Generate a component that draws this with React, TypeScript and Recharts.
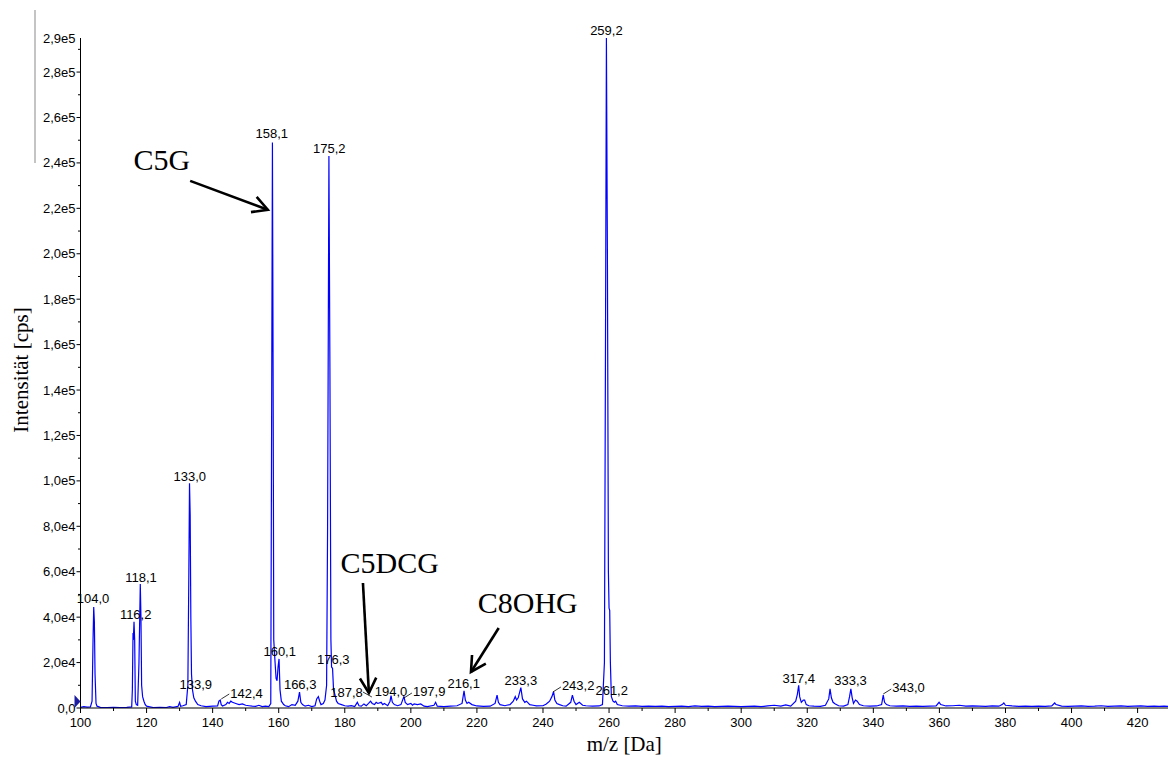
import React from 'react';
import {
  LineChart,
  Line,
  XAxis,
  YAxis,
  ReferenceDot,
  ReferenceLine,
  Label,
} from 'recharts';

// ---- axis ticks ----
const xTickValues = [
  100, 110, 120, 130, 140, 150, 160, 170, 180, 190, 200, 210, 220, 230, 240, 250,
  260, 270, 280, 290, 300, 310, 320, 330, 340, 350, 360, 370, 380, 390, 400, 410, 420,
];
const yTickValues = [
  0, 10000, 20000, 30000, 40000, 50000, 60000, 70000, 80000, 90000, 100000, 110000,
  120000, 130000, 140000, 150000, 160000, 170000, 180000, 190000, 200000, 210000,
  220000, 230000, 240000, 250000, 260000, 270000, 280000, 290000, 295000,
];
const yTopLabelValue = 295000;
const yTopLabelText = '2,9e5';

// ---- spectrum: [m/z, intensity cps] ----
const spectrumPoints: [number, number][] = [
  [100.0, 300], [101.0, 600], [102.0, 400], [103.0, 500], [103.5, 3000], [103.8, 30000],
  [104.0, 44500], [104.2, 38000], [104.4, 15000], [104.7, 2000], [105.0, 800], [106, 300],
  [108, 200], [110, 300], [112, 200], [114, 300], [115.5, 500], [115.7, 8000], [115.9, 33000],
  [116.0, 30000], [116.2, 38000], [116.4, 30000], [116.6, 3000], [116.9, 1500], [117.3, 1200],
  [117.7, 20000], [118.1, 54600], [118.3, 40000], [118.5, 10000], [118.8, 5000], [119.2, 3000],
  [119.6, 1500], [120, 800], [121, 500], [122, 200], [124, 300], [126, 200], [127, 600],
  [128, 300], [129.5, 700], [130, 2500], [130.3, 800], [131, 1000], [132, 1500], [132.5, 10000],
  [132.8, 60000], [133.0, 99000], [133.2, 85000], [133.4, 40000], [133.6, 15000], [133.9, 8000],
  [134.3, 4500], [134.8, 3000], [135.5, 1500], [136.5, 1000], [138, 600], [140, 800],
  [141.5, 900], [141.9, 3000], [142.3, 3500], [142.6, 1500], [143, 900], [144, 1500],
  [144.5, 2500], [145, 2000], [145.5, 3000], [146, 2500], [147, 2000], [148, 1500], [149, 1800],
  [150, 1200], [151, 1000], [152, 800], [153, 700], [154, 1200], [155, 600], [156, 800],
  [157, 600], [157.6, 2000], [157.8, 100000], [158.1, 249000], [158.3, 150000], [158.5, 30000],
  [158.9, 20000], [159.2, 13000], [159.5, 12000], [159.8, 18000], [160.1, 21600], [160.4, 8000],
  [160.8, 3000], [161.5, 1500], [162, 1000], [163, 600], [164, 1500], [165, 1200], [165.8, 3000],
  [166.3, 7000], [166.7, 2500], [167.2, 1500], [168, 800], [169, 1200], [170, 600], [171, 1000],
  [171.5, 4000], [172, 5000], [172.4, 3000], [172.8, 1500], [173.5, 2000], [174, 3500],
  [174.5, 10000], [174.8, 80000], [175.2, 243000], [175.5, 150000], [175.8, 30000],
  [176.0, 18000], [176.3, 17500], [176.6, 8000], [177, 6000], [177.5, 3000], [178, 2000],
  [179, 1500], [180, 1000], [181, 800], [182, 1000], [183, 600], [183.8, 2500], [184.3, 1000],
  [185, 800], [185.8, 1800], [186.5, 1000], [187.2, 2000], [187.8, 3000], [188.3, 2000],
  [189, 1500], [189.5, 2500], [190, 2000], [191, 2500], [191.5, 1500], [192, 2000], [193, 1000],
  [193.7, 3000], [194.0, 5500], [194.4, 2500], [195, 1500], [196, 1000], [197, 1500],
  [197.9, 5000], [198.3, 2500], [199, 1500], [200, 2000], [200.5, 1200], [201, 1800],
  [202, 1500], [203, 1800], [204, 800], [205, 600], [207, 1200], [207.5, 2500], [208, 800],
  [210, 600], [212, 800], [214, 1000], [215.5, 2000], [216.1, 7600], [216.5, 3500], [217, 2000],
  [217.5, 2500], [218.5, 1500], [220, 900], [222, 700], [224, 800], [225.5, 2000],
  [226.1, 5700], [226.5, 2500], [227, 1500], [228.5, 1000], [229, 1200], [230, 1500],
  [231, 3000], [231.6, 5000], [232, 3500], [232.5, 4500], [233.3, 9000], [233.8, 4000],
  [234.5, 2500], [235, 3000], [236, 1500], [237, 1200], [238, 900], [240, 1000], [241, 1800],
  [242, 3000], [242.7, 5000], [243.2, 7200], [243.6, 3500], [244.2, 2000], [245, 1500],
  [246, 1000], [247, 800], [248.4, 2500], [248.9, 5700], [249.4, 3000], [250, 1500],
  [251, 2500], [252, 1200], [253, 1000], [255, 800], [257, 900], [258, 1500], [258.6, 20000],
  [258.9, 150000], [259.2, 295000], [259.5, 200000], [259.8, 60000], [260.0, 44000],
  [260.2, 43000], [260.4, 20000], [260.7, 5000], [261.2, 3000], [261.6, 2500], [262, 3000],
  [262.5, 1500], [264, 1000], [266, 800], [268, 900], [270, 700], [272, 800], [274, 700],
  [276, 800], [278, 600], [280, 700], [282, 800], [284, 600], [286, 900], [288, 700],
  [290, 800], [292, 600], [294, 700], [296, 800], [298, 700], [300, 600], [302, 700],
  [304, 800], [306, 600], [308, 900], [310, 1200], [312, 800], [313.5, 1400], [315, 800],
  [316.5, 3000], [317.0, 6000], [317.4, 10000], [317.7, 5000], [318.2, 2500], [318.8, 3500],
  [319.2, 3500], [319.7, 1500], [320.5, 1000], [322, 800], [324, 700], [325.5, 1200],
  [326.5, 4000], [326.9, 8400], [327.3, 4500], [327.8, 2500], [328.5, 1800], [329.5, 1000],
  [331, 800], [332.3, 1500], [332.8, 5000], [333.2, 8400], [333.6, 4500], [334, 2000],
  [334.6, 3500], [335.1, 3000], [335.8, 1500], [337, 1000], [339, 800], [341, 900],
  [342.5, 1500], [343.0, 5700], [343.4, 2500], [344, 1500], [345, 1000], [347, 800], [349, 900],
  [351, 700], [353, 800], [355, 700], [357, 800], [359, 900], [359.9, 2500], [360.4, 1500],
  [362, 900], [364, 1000], [366, 1200], [368, 800], [370, 900], [372, 800], [374, 700],
  [376, 900], [378, 800], [379, 1500], [379.5, 2200], [380, 1200], [382, 900], [384, 700],
  [386, 800], [388, 700], [390, 800], [392, 700], [394, 900], [394.9, 2200], [395.3, 1500],
  [397, 800], [399, 700], [401, 800], [403, 900], [405, 700], [407, 800], [409, 1000],
  [411, 700], [413, 800], [415, 900], [417, 700], [419, 800], [421, 900], [423, 700],
  [425, 800], [426.5, 700], [428, 800], [429.2, 700],
];

// ---- peak labels: anchor (m/z, intensity), text, leader side ----
type Lead = 'none' | 'right' | 'left';
const peakLabels: { mz: number; val: number; text: string; lead: Lead }[] = [
  { mz: 103.8, val: 45060, text: '104,0', lead: 'none' },
  { mz: 116.7, val: 38000, text: '116,2', lead: 'none' },
  { mz: 118.3, val: 54300, text: '118,1', lead: 'none' },
  { mz: 133.1, val: 98800, text: '133,0', lead: 'none' },
  { mz: 134.9, val: 7200, text: '133,9', lead: 'none' },
  { mz: 142.6, val: 3960, text: '142,4', lead: 'right' },
  { mz: 157.9, val: 249450, text: '158,1', lead: 'none' },
  { mz: 160.3, val: 21600, text: '160,1', lead: 'none' },
  { mz: 166.5, val: 7180, text: '166,3', lead: 'none' },
  { mz: 175.3, val: 242850, text: '175,2', lead: 'none' },
  { mz: 176.5, val: 17970, text: '176,3', lead: 'none' },
  { mz: 188.2, val: 4845, text: '187,8', lead: 'left' },
  { mz: 194.0, val: 4100, text: '194,0', lead: 'none' },
  { mz: 197.9, val: 4405, text: '197,9', lead: 'right' },
  { mz: 216.0, val: 7620, text: '216,1', lead: 'none' },
  { mz: 233.3, val: 8940, text: '233,3', lead: 'none' },
  { mz: 243.0, val: 7050, text: '243,2', lead: 'right' },
  { mz: 259.2, val: 295000, text: '259,2', lead: 'none' },
  { mz: 260.8, val: 4540, text: '261,2', lead: 'none' },
  { mz: 317.4, val: 9820, text: '317,4', lead: 'none' },
  { mz: 333.1, val: 8630, text: '333,3', lead: 'none' },
  { mz: 343.0, val: 6170, text: '343,0', lead: 'right' },
];

// ---- compound annotations ----
const annotationTexts = [
  { mz: 124.6, val: 237000, text: 'C5G' },
  { mz: 193.6, val: 59470, text: 'C5DCG' },
  { mz: 235.4, val: 41850, text: 'C8OHG' },
];
const annotationArrows = [
  { from: { mz: 133.2, val: 232100 }, to: { mz: 156.7, val: 219400 } },
  { from: { mz: 185.5, val: 55060 }, to: { mz: 187.3, val: 6600 } },
  { from: { mz: 226.6, val: 35240 }, to: { mz: 218.2, val: 15860 } },
];

const SANS = '"Liberation Sans", Arial, sans-serif';
const SERIF = '"Liberation Serif", "Times New Roman", serif';

const data = spectrumPoints.map(([mz, int]) => ({ mz, int }));

function formatY(v: number): string {
  if (v === 0) return '0,0';
  const exp = Math.floor(Math.log10(v));
  const mant = v / Math.pow(10, exp);
  return mant.toFixed(1).replace('.', ',') + 'e' + exp;
}

const XTick = (props: any) => {
  const { x, y, payload } = props;
  const v = payload.value;
  const major = v % 20 === 0;
  return (
    <g>
      <line x1={x} y1={y} x2={x} y2={y + (major ? 5 : 3)} stroke="#000" strokeWidth={1} />
      {major && (
        <text x={x} y={y + 19} textAnchor="middle" fontFamily={SANS} fontSize={13} fill="#000">
          {v}
        </text>
      )}
    </g>
  );
};

const YTick = (props: any) => {
  const { x, y, payload } = props;
  const v = payload.value;
  if (v === yTopLabelValue) {
    return (
      <text x={x - 5} y={y + 5} textAnchor="end" fontFamily={SANS} fontSize={13} fill="#000">
        {yTopLabelText}
      </text>
    );
  }
  const major = v % 20000 === 0;
  return (
    <g>
      <line x1={x - (major ? 4 : 2.5)} y1={y} x2={x} y2={y} stroke="#000" strokeWidth={1} />
      {major && (
        <text x={x - 5} y={y + 4.5} textAnchor="end" fontFamily={SANS} fontSize={13} fill="#000">
          {formatY(v)}
        </text>
      )}
    </g>
  );
};

const makeLabelShape = (text: string, lead: Lead) => (p: any) => {
  const { cx, cy } = p;
  if (lead === 'right') {
    return (
      <g>
        <line x1={cx} y1={cy} x2={cx + 8} y2={cy - 5} stroke="#000" strokeWidth={0.8} />
        <text x={cx + 9} y={cy - 1.5} fontFamily={SANS} fontSize={13} fill="#000">
          {text}
        </text>
      </g>
    );
  }
  if (lead === 'left') {
    return (
      <g>
        <line x1={cx} y1={cy} x2={cx - 9} y2={cy - 5} stroke="#000" strokeWidth={0.8} />
        <text x={cx - 9} y={cy + 0.5} textAnchor="end" fontFamily={SANS} fontSize={13} fill="#000">
          {text}
        </text>
      </g>
    );
  }
  return (
    <text x={cx} y={cy - 3} textAnchor="middle" fontFamily={SANS} fontSize={13} fill="#000">
      {text}
    </text>
  );
};

const makeAnnotationShape = (text: string) => (p: any) => (
  <text x={p.cx} y={p.cy} textAnchor="middle" fontFamily={SERIF} fontSize={30} fill="#000">
    {text}
  </text>
);

const ArrowShape = (p: any) => {
  const { x1, y1, x2, y2 } = p;
  const ang = Math.atan2(y2 - y1, x2 - x1);
  const len = 17;
  const spread = 0.5;
  const ax = x2 - len * Math.cos(ang - spread);
  const ay = y2 - len * Math.sin(ang - spread);
  const bx = x2 - len * Math.cos(ang + spread);
  const by = y2 - len * Math.sin(ang + spread);
  return (
    <g>
      <line x1={x1} y1={y1} x2={x2} y2={y2} stroke="#000" strokeWidth={2.6} />
      <polyline
        points={`${ax},${ay} ${x2},${y2} ${bx},${by}`}
        fill="none"
        stroke="#000"
        strokeWidth={2.6}
        strokeLinejoin="miter"
      />
    </g>
  );
};

const MarkerShape = (p: any) => {
  const { cx, cy } = p;
  return (
    <polygon
      points={`${cx - 6},${cy - 13} ${cx},${cy - 6.5} ${cx - 6},${cy}`}
      fill="#1c1ca0"
    />
  );
};

export default function App() {
  return (
    <div style={{ position: 'absolute', left: 0, top: 0, width: 1168, height: 761, background: '#fff' }}>
      <div
        style={{
          position: 'absolute',
          left: 34,
          top: 10,
          width: 2,
          height: 153,
          background: '#c4c4c4',
        }}
      />
      <LineChart
        width={1168}
        height={761}
        data={data}
        margin={{ top: 38, right: 0, bottom: 0, left: 0 }}
      >
        <XAxis
          type="number"
          dataKey="mz"
          domain={[100, 429.2]}
          allowDataOverflow
          ticks={xTickValues}
          interval={0}
          tick={<XTick />}
          tickLine={false}
          tickSize={0}
          tickMargin={0}
          height={53}
          axisLine={{ stroke: '#000', strokeWidth: 1 }}
        >
          <Label
            content={(lp: any) => {
              const vb = lp.viewBox || {};
              return (
                <text
                  x={(vb.x ?? 80) + (vb.width ?? 1088) / 2}
                  y={751}
                  textAnchor="middle"
                  fontFamily={SERIF}
                  fontSize={21}
                  fill="#000"
                >
                  m/z [Da]
                </text>
              );
            }}
          />
        </XAxis>
        <YAxis
          type="number"
          domain={[0, 295000]}
          allowDataOverflow
          ticks={yTickValues}
          interval={0}
          tick={<YTick />}
          tickLine={false}
          tickSize={0}
          tickMargin={0}
          width={80.5}
          axisLine={{ stroke: '#000', strokeWidth: 1 }}
        >
          <Label
            content={() => (
              <text
                x={28}
                y={370}
                transform="rotate(-90, 28, 370)"
                textAnchor="middle"
                fontFamily={SERIF}
                fontSize={21}
                fill="#000"
              >
                Intensität [cps]
              </text>
            )}
          />
        </YAxis>
        <Line
          type="linear"
          dataKey="int"
          stroke="#0000ff"
          strokeWidth={1.2}
          dot={false}
          activeDot={false}
          isAnimationActive={false}
        />
        {peakLabels.map((pl, i) => (
          <ReferenceDot
            key={'pl' + i}
            x={pl.mz}
            y={pl.val}
            ifOverflow="visible"
            shape={makeLabelShape(pl.text, pl.lead)}
          />
        ))}
        {annotationTexts.map((a, i) => (
          <ReferenceDot
            key={'at' + i}
            x={a.mz}
            y={a.val}
            ifOverflow="visible"
            shape={makeAnnotationShape(a.text)}
          />
        ))}
        {annotationArrows.map((a, i) => (
          <ReferenceLine
            key={'ar' + i}
            segment={[
              { x: a.from.mz, y: a.from.val },
              { x: a.to.mz, y: a.to.val },
            ]}
            ifOverflow="visible"
            shape={ArrowShape}
          />
        ))}
        <ReferenceDot x={100} y={0} ifOverflow="visible" shape={MarkerShape} />
      </LineChart>
    </div>
  );
}
